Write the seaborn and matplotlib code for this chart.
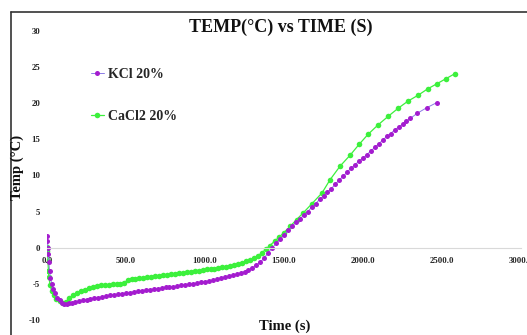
import numpy as np
import pandas as pd
import seaborn as sns
import matplotlib
matplotlib.use("Agg")
import matplotlib.pyplot as plt
from matplotlib.lines import Line2D

# === data ===
kcl_time = [0, 3, 6, 9, 12, 16, 22, 30, 40, 52, 65, 80, 95, 110, 125, 140, 160, 180, 200,
            225, 250, 275, 300, 325, 350, 375, 400, 425, 450, 475, 500, 525, 550, 575, 600,
            625, 650, 675, 700, 725, 750, 775, 800, 825, 850, 875, 900, 925, 950, 975, 1000,
            1025, 1050, 1075, 1100, 1125, 1150, 1175, 1200, 1225, 1250, 1275, 1300, 1325,
            1350, 1375, 1400, 1425, 1450, 1475, 1500, 1525, 1550, 1575, 1600, 1625, 1650,
            1675, 1700, 1725, 1750, 1775, 1800, 1825, 1850, 1875, 1900, 1925, 1950, 1975,
            2000, 2025, 2050, 2075, 2100, 2125, 2150, 2175, 2200, 2225, 2250, 2275, 2300,
            2342, 2405, 2468]
kcl_temp = [1.6, 1.0, 0.0, -0.8, -2.0, -3.2, -4.2, -5.0, -5.7, -6.3, -6.9, -7.3, -7.6,
            -7.8, -7.8, -7.7, -7.6, -7.5, -7.4, -7.3, -7.2, -7.1, -7.0, -6.9, -6.8, -6.7,
            -6.6, -6.5, -6.45, -6.4, -6.3, -6.2, -6.1, -6.05, -6.0, -5.9, -5.8, -5.75, -5.7,
            -5.6, -5.5, -5.45, -5.4, -5.3, -5.2, -5.1, -5.05, -5.0, -4.9, -4.8, -4.7, -4.6,
            -4.5, -4.35, -4.2, -4.1, -3.95, -3.8, -3.65, -3.5, -3.3, -3.05, -2.8, -2.4, -2.0,
            -1.4, -0.7, 0.0, 0.6, 1.2, 1.8, 2.4, 3.0, 3.5, 4.0, 4.5, 5.0, 5.6, 6.1, 6.7, 7.2,
            7.7, 8.2, 8.8, 9.4, 9.9, 10.5, 11.0, 11.5, 12.0, 12.4, 12.9, 13.4, 13.9, 14.4,
            14.9, 15.4, 15.8, 16.3, 16.7, 17.1, 17.5, 17.9, 18.6, 19.4, 20.1]

cacl_time = [0, 3, 6, 9, 12, 20, 30, 45, 60, 80, 100, 120, 140, 165, 190, 215, 240, 265,
             290, 315, 340, 365, 390, 415, 440, 465, 490, 510, 535, 560, 585, 610, 635, 660,
             685, 710, 735, 760, 785, 810, 835, 860, 885, 910, 935, 960, 985, 1010, 1035,
             1060, 1085, 1110, 1135, 1160, 1185, 1210, 1235, 1260, 1285, 1310, 1335, 1360,
             1385, 1410, 1440, 1470, 1500, 1540, 1580, 1620, 1677, 1741, 1791, 1855, 1918,
             1975, 2032, 2095, 2160, 2222, 2285, 2348, 2410, 2468, 2525, 2582]
cacl_temp = [0.1, -0.4, -1.8, -3.2, -4.1, -5.2, -6.0, -6.6, -7.1, -7.4, -7.6, -7.5, -7.0,
             -6.6, -6.3, -6.0, -5.8, -5.6, -5.4, -5.3, -5.2, -5.15, -5.1, -5.05, -5.0, -4.95,
             -4.9, -4.4, -4.35, -4.3, -4.25, -4.2, -4.1, -4.0, -3.95, -3.9, -3.8, -3.75,
             -3.7, -3.6, -3.5, -3.45, -3.4, -3.3, -3.2, -3.15, -3.1, -3.0, -2.95, -2.9, -2.8,
             -2.7, -2.6, -2.5, -2.4, -2.2, -2.05, -1.9, -1.7, -1.4, -1.1, -0.7, -0.2, 0.3,
             0.9, 1.5, 2.1, 3.0, 3.9, 4.8, 6.1, 7.6, 9.4, 11.3, 12.8, 14.3, 15.7, 17.0, 18.2,
             19.3, 20.3, 21.1, 22.0, 22.7, 23.4, 24.1]

series_labels = ["KCl 20%", "CaCl2 20%"]
x_ticks = [0, 500, 1000, 1500, 2000, 2500, 3000]
y_ticks = [-10, -5, 0, 5, 10, 15, 20, 25, 30]

kcl = pd.DataFrame({"time": kcl_time, "temp": kcl_temp})
cacl = pd.DataFrame({"time": cacl_time, "temp": cacl_temp})

sns.set_theme(style="white")
plt.rcParams["font.family"] = ["Liberation Serif", "DejaVu Serif"]
plt.rcParams["font.weight"] = "bold"
plt.rcParams["axes.unicode_minus"] = False

fig = plt.figure(figsize=(5.27, 3.35), dpi=100)
ax = fig.add_axes([47 / 527, 1 - 320 / 335, 474 / 527, 289 / 335])

purple = "#a41ccf"
green = "#3cf03c"
sns.lineplot(data=cacl, x="time", y="temp", ax=ax, color=green, linewidth=0.9,
             marker="o", markersize=4.0, markerfacecolor=green, markeredgecolor=green,
             markeredgewidth=0)
sns.lineplot(data=kcl, x="time", y="temp", ax=ax, color="#8c7ce6", linewidth=0.7,
             marker="o", markersize=3.6, markerfacecolor=purple, markeredgecolor=purple,
             markeredgewidth=0)

ax.set_xlim(0, 3000)
ax.set_ylim(-10, 30)
ax.set_xticks(x_ticks)
ax.set_xticklabels([f"{t:.1f}" for t in x_ticks])
ax.set_yticks(y_ticks)
ax.tick_params(axis="both", length=0, labelsize=6.3)
ax.tick_params(axis="x", pad=6.5)
ax.tick_params(axis="y", pad=5)
for lab in ax.get_xticklabels() + ax.get_yticklabels():
    lab.set_fontweight("bold")
    lab.set_color("#222222")
for s in ["top", "right", "left"]:
    ax.spines[s].set_visible(False)
ax.spines["bottom"].set_position(("data", 0))
ax.spines["bottom"].set_color("#d9d9d9")
ax.spines["bottom"].set_linewidth(0.8)
ax.set_xlabel("")
ax.set_ylabel("")
ax.patch.set_alpha(0)

# legend
handles = [
    Line2D([], [], color="#8c7ce6", lw=0.7, marker="o", markersize=3.6,
           markerfacecolor=purple, markeredgewidth=0),
    Line2D([], [], color=green, lw=0.9, marker="o", markersize=4.0,
           markerfacecolor=green, markeredgewidth=0),
]
ax.legend(handles, series_labels, loc="upper left", frameon=False,
          bbox_to_anchor=(91 / 527, 1 - 68 / 335), bbox_transform=fig.transFigure,
          borderpad=0, borderaxespad=0, handlelength=0.9, handletextpad=0.3,
          labelspacing=2.1, prop={"family": "Liberation Serif", "weight": "bold", "size": 10})

# titles
fig.text(281 / 527, 1 - 27 / 335, "TEMP(°C) vs TIME (S)", ha="center", va="center",
         fontsize=13, fontweight="bold", color="#111111")
fig.text(285 / 527, 1 - 326 / 335, "Time (s)", ha="center", va="center",
         fontsize=10.5, fontweight="bold", color="#111111")
fig.text(17 / 527, 1 - 167 / 335, "Temp (°C)", ha="center", va="center", rotation=90,
         fontsize=10.5, fontweight="bold", color="#111111")

# outer chart border (left and top edges visible)
fig.add_artist(Line2D([11 / 527, 11 / 527], [-0.05, 1 - 12 / 335], transform=fig.transFigure,
                      color="#333333", lw=1.2))
fig.add_artist(Line2D([11 / 527, 1.05], [1 - 12 / 335, 1 - 12 / 335], transform=fig.transFigure,
                      color="#333333", lw=1.2))

fig.savefig("out.png", dpi=100)
